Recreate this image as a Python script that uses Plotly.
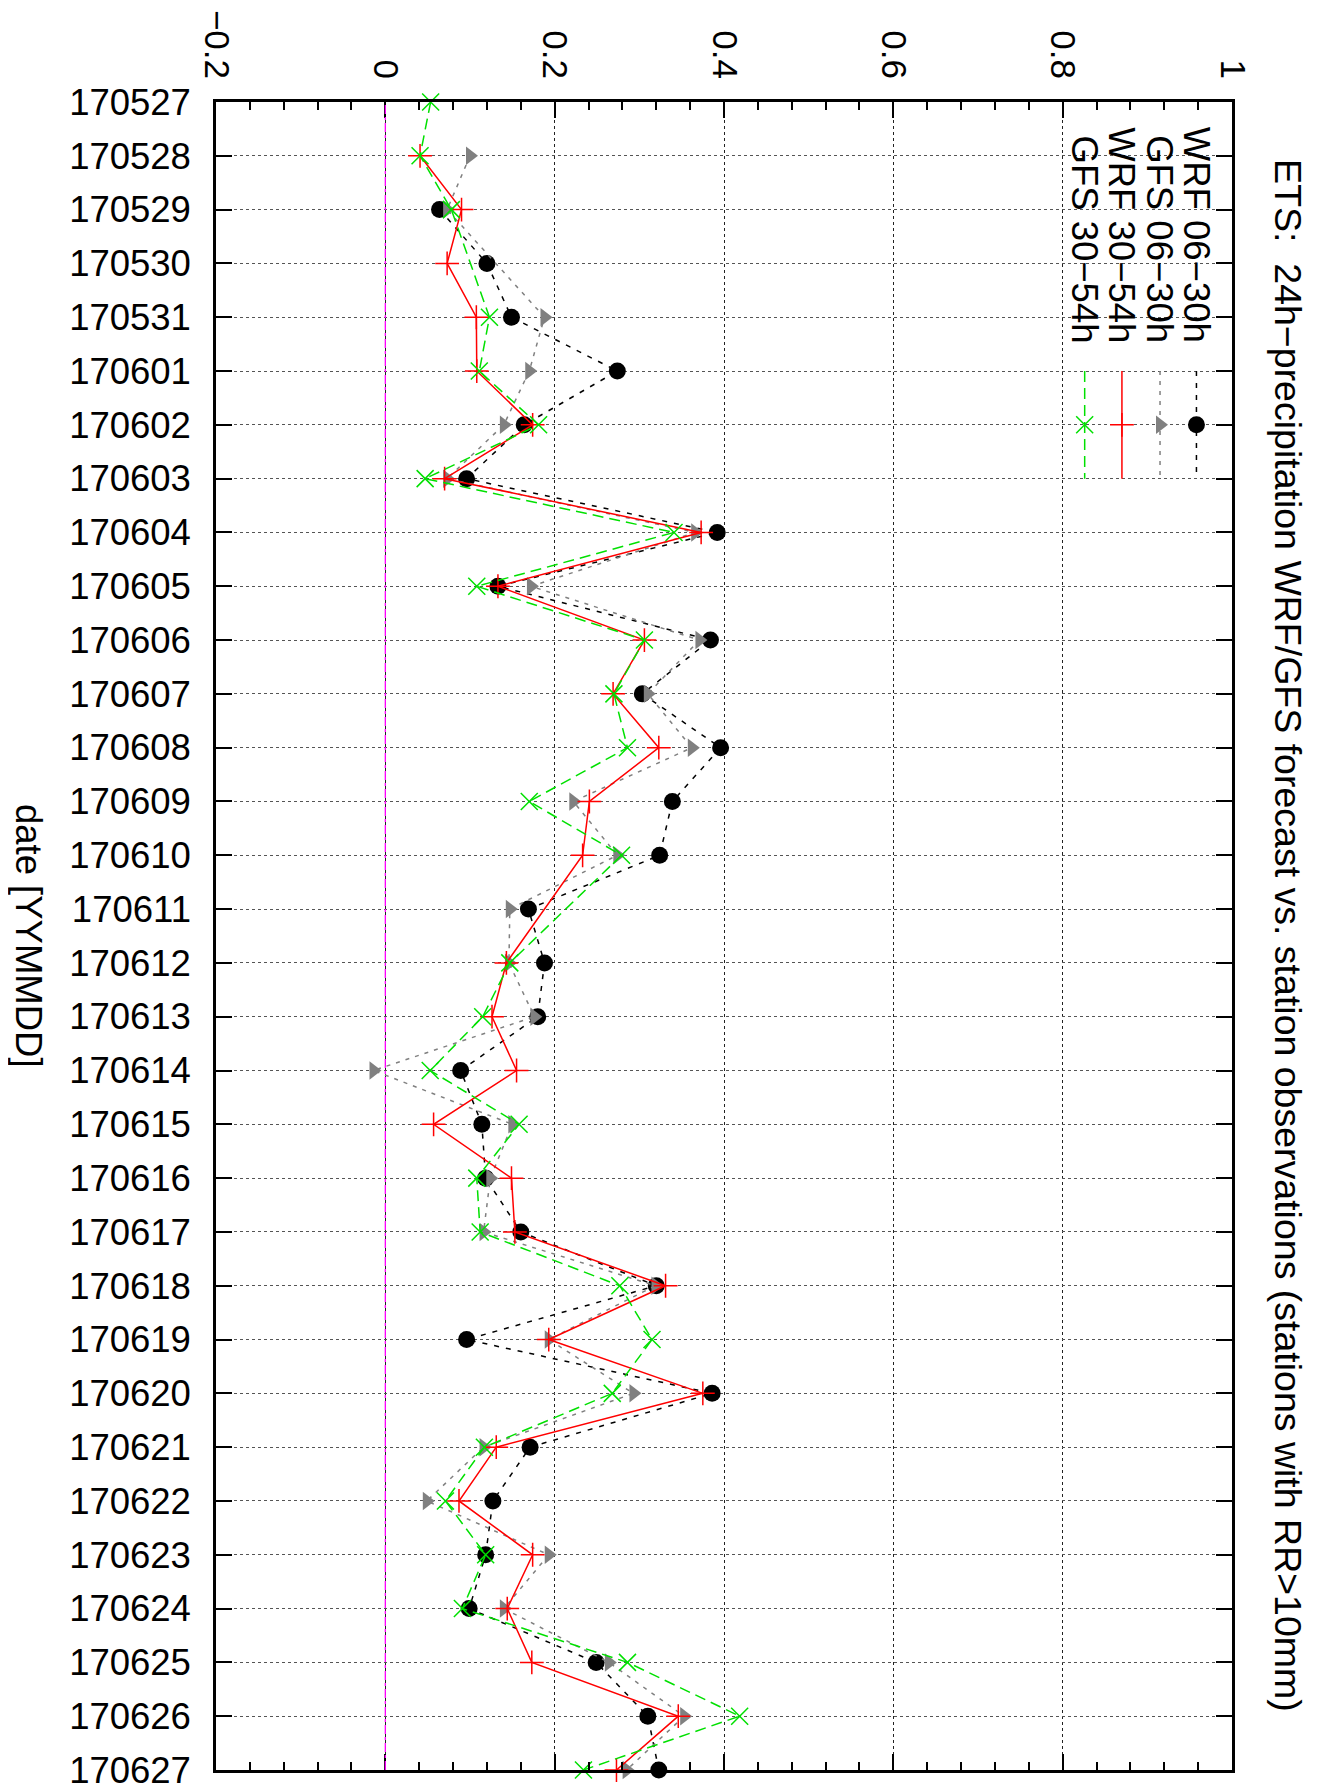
import plotly.graph_objects as go

dates = ["170527", "170528", "170529", "170530", "170531", "170601", "170602", "170603",
         "170604", "170605", "170606", "170607", "170608", "170609", "170610", "170611",
         "170612", "170613", "170614", "170615", "170616", "170617", "170618", "170619",
         "170620", "170621", "170622", "170623", "170624", "170625", "170626", "170627"]

wrf_06_30 = [None, None, 0.064, 0.120, 0.149, 0.274, 0.164, 0.096, 0.392, 0.133, 0.384, 0.3035,
             0.396, 0.339, 0.324, 0.169, 0.188, 0.180, 0.089, 0.114, 0.1185, 0.160, 0.320, 0.096,
             0.386, 0.171, 0.127, 0.1185, 0.099, 0.249, 0.310, 0.323]
gfs_06_30 = [None, 0.100, 0.073, None, 0.188, 0.170, 0.140, 0.073, 0.366, 0.172, 0.371, 0.310,
             0.362, 0.222, 0.274, 0.147, 0.146, 0.176, -0.014, 0.150, 0.124, 0.116, 0.319, 0.193,
             0.293, 0.116, 0.049, 0.193, 0.140, 0.264, 0.353, 0.285]
wrf_30_54 = [None, 0.041, 0.090, 0.073, 0.1075, 0.108, 0.174, 0.070, 0.373, 0.133, 0.306, 0.269,
             0.323, 0.241, 0.233, None, 0.143, 0.126, 0.155, 0.057, 0.149, 0.153, 0.331, 0.193,
             0.375, 0.131, 0.087, 0.174, 0.144, 0.173, 0.346, 0.273]
gfs_30_54 = [0.0535, 0.041, 0.078, None, 0.123, 0.111, 0.181, 0.047, 0.341, 0.108, 0.306, 0.270,
             0.286, 0.170, 0.279, None, 0.147, 0.115, 0.053, 0.158, 0.108, 0.112, 0.277, 0.315,
             0.268, 0.117, 0.071, 0.1185, 0.091, 0.286, 0.4185, 0.234]

series_names = ["WRF 06\u221230h", "GFS 06\u221230h", "WRF 30\u221254h", "GFS 30\u221254h"]
x_ticks = [-0.2, 0, 0.2, 0.4, 0.6, 0.8, 1]

FONT = "Liberation Sans, Arial, sans-serif"
FS = 36.5

styles = [
    dict(line=dict(color="black", width=1.5, dash="5px,7px"),
         marker=dict(symbol="circle", size=17, color="black")),
    dict(line=dict(color="#808080", width=1.5, dash="4px,6px"),
         marker=dict(symbol="triangle-right", size=16, color="#808080")),
    dict(line=dict(color="#ff0000", width=1.5),
         marker=dict(symbol="cross-thin", size=17, color="#ff0000",
                     line=dict(color="#ff0000", width=1.5))),
    dict(line=dict(color="#00e000", width=1.5, dash="11px,6px"),
         marker=dict(symbol="x-thin", size=17, color="#00e000",
                     line=dict(color="#00e000", width=1.5))),
]

y_idx = list(range(len(dates)))
fig = go.Figure()

for vals, st, name in zip([wrf_06_30, gfs_06_30, wrf_30_54, gfs_30_54], styles, series_names):
    fig.add_trace(go.Scatter(x=vals, y=y_idx, mode="lines+markers", name=name,
                             connectgaps=True, cliponaxis=False, showlegend=False,
                             line=st["line"], marker=st["marker"]))

# manual rotated legend (gnuplot key rotated with the whole plot)
key_x = [0.958, 0.915, 0.870, 0.826]
key_line_y = [5, 7]
key_mark_y = 6
key_text_y = 4.52
for kx, st, name in zip(key_x, styles, series_names):
    fig.add_trace(go.Scatter(x=[kx, kx], y=key_line_y, mode="lines", line=st["line"],
                             showlegend=False, hoverinfo="skip", cliponaxis=False))
    fig.add_trace(go.Scatter(x=[kx], y=[key_mark_y], mode="markers", marker=st["marker"],
                             showlegend=False, hoverinfo="skip", cliponaxis=False))
    fig.add_annotation(x=kx, y=key_text_y, xref="x", yref="y", text=name, textangle=90,
                       showarrow=False, xanchor="center", yanchor="bottom",
                       font=dict(family=FONT, size=FS, color="black"))

# zero axis (magenta dash-dot)
fig.add_shape(type="line", x0=0, x1=0, y0=0, y1=1, xref="x", yref="paper",
              line=dict(color="#ff00ff", width=1.3, dash="dashdot"), layer="above")

# title and axis label (rotated)
fig.add_annotation(x=1.055, y=0.5, xref="paper", yref="paper",
                   text="ETS:\u00a0 24h\u2212precipitation WRF/GFS forecast vs. station observations (stations with RR>10mm)",
                   textangle=90, showarrow=False, xanchor="center", yanchor="middle",
                   font=dict(family=FONT, size=37.5, color="black"))
fig.add_annotation(x=-0.184, y=0.5, xref="paper", yref="paper", text="date [YYMMDD]",
                   textangle=90, showarrow=False, xanchor="center", yanchor="middle",
                   font=dict(family=FONT, size=FS, color="black"))

fig.update_layout(
    width=1313, height=1779,
    margin=dict(l=208, r=89, t=94, b=17, autoexpand=False),
    paper_bgcolor="white", plot_bgcolor="white",
    font=dict(family=FONT, size=FS, color="black"),
    xaxis=dict(side="top", range=[-0.2, 1], tickvals=x_ticks, tickangle=90,
               ticks="inside", ticklen=16, tickwidth=2, tickcolor="black",
               minor=dict(dtick=0.04, tick0=0, ticks="inside", ticklen=8, tickwidth=1.5,
                          tickcolor="black", showgrid=False),
               showline=True, linecolor="black", linewidth=2.5, mirror="allticks",
               showgrid=True, gridcolor="#222222", griddash="dot", gridwidth=1,
               zeroline=False, ticklabelstandoff=8, automargin=False,
               ticklabeloverflow="allow",
               tickfont=dict(family=FONT, size=35, color="black")),
    yaxis=dict(range=[31, 0], tickvals=y_idx, ticktext=dates,
               ticks="inside", ticklen=16, tickwidth=2, tickcolor="black",
               showline=True, linecolor="black", linewidth=2.5, mirror="allticks",
               showgrid=True, gridcolor="#555555", griddash="dot", gridwidth=1,
               zeroline=False, ticklabelstandoff=15, automargin=False,
               ticklabeloverflow="allow",
               tickfont=dict(family=FONT, size=FS, color="black")),
)

fig.write_html("out.html")
